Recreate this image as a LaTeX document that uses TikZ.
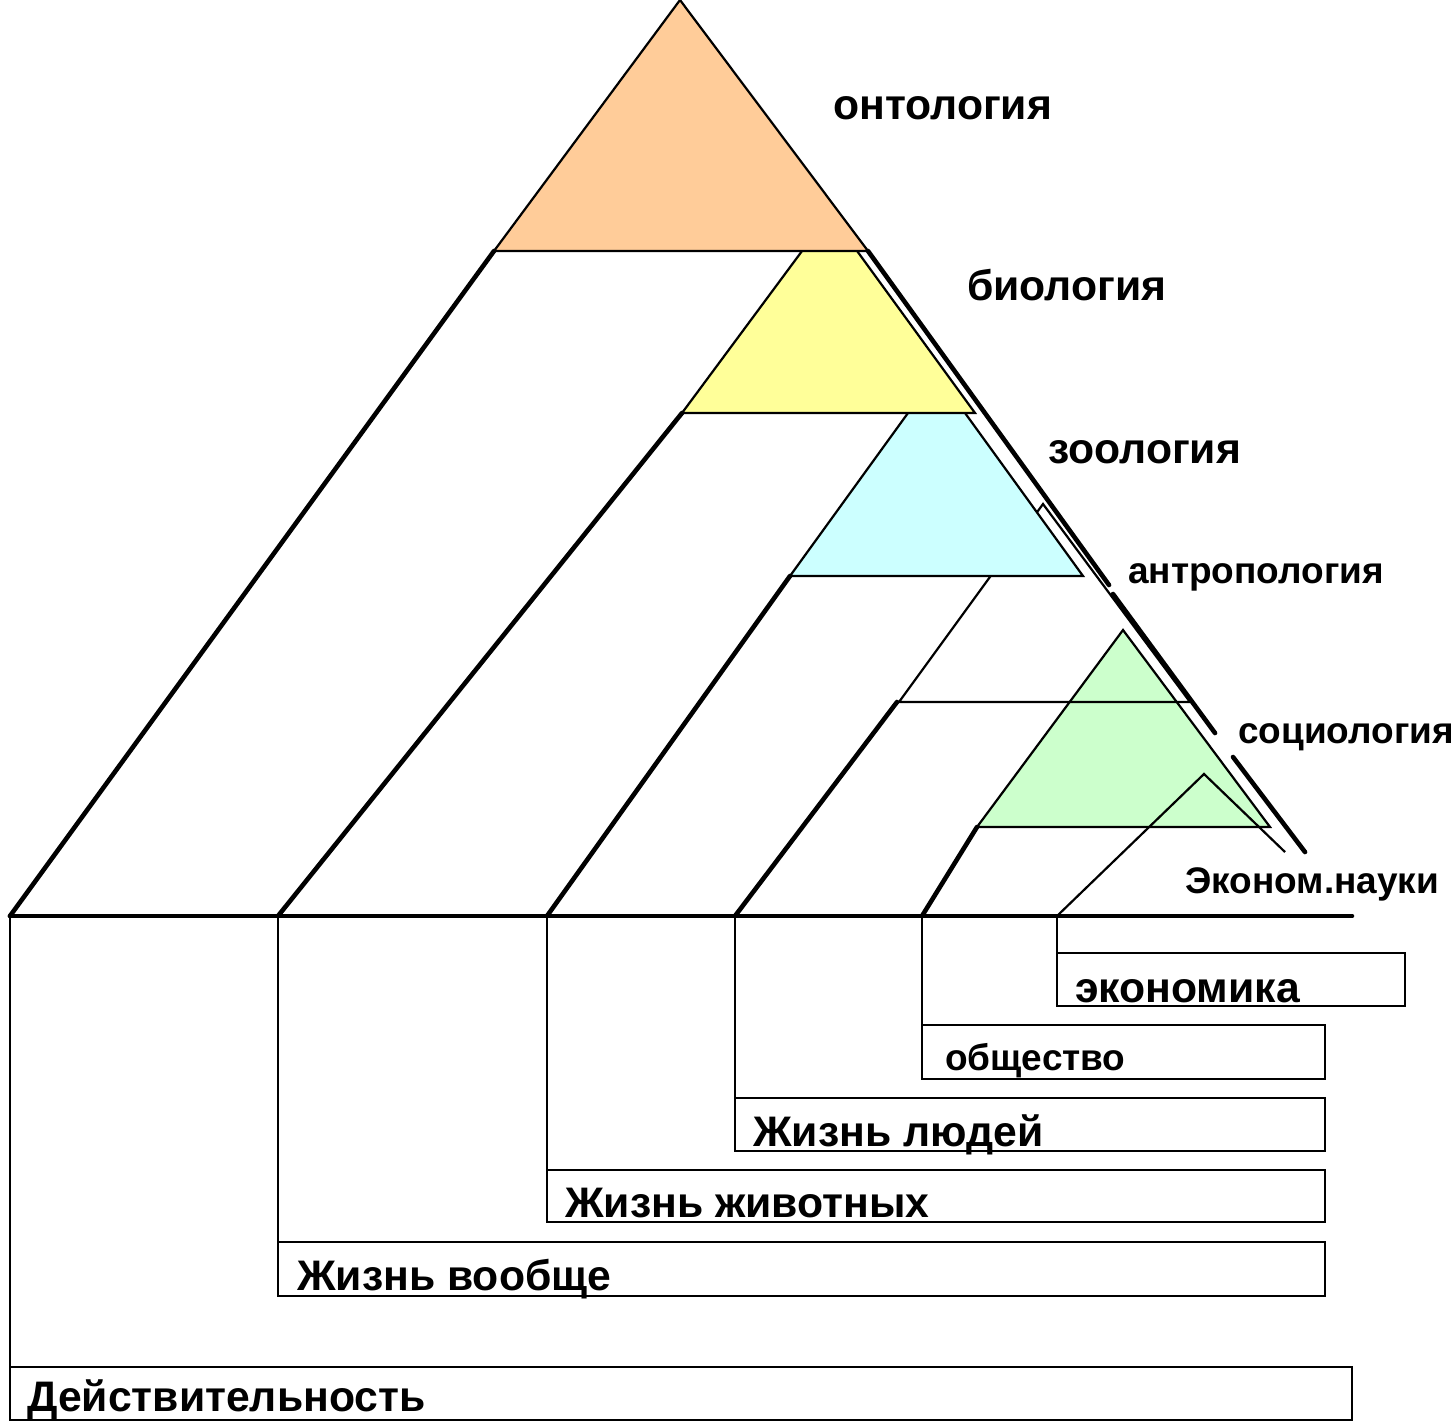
\documentclass[tikz,border=0pt]{standalone}
\usepackage{fontspec}
\setmainfont{Liberation Sans}
\definecolor{ontc}{HTML}{FFCC99}
\definecolor{bioc}{HTML}{FFFF99}
\definecolor{zooc}{HTML}{CCFFFF}
\definecolor{socc}{HTML}{CCFFCC}
\begin{document}
\begin{tikzpicture}[x=1pt,y=-1pt,
  edgeK/.style={line width=4.6pt, line cap=round, line join=round},
  edgeT/.style={line width=2.2pt, line join=miter},
  boxln/.style={line width=2.6pt},
  lbl/.style={inner sep=0pt, anchor=base west, font=\fontsize{42.7}{48}\selectfont\bfseries},
  lbls/.style={inner sep=0pt, anchor=base west, font=\fontsize{37}{42}\selectfont\bfseries}]
\useasboundingbox[fill=white] (0,0) rectangle (1456,1422);

% social triangle (green)
\filldraw[edgeT, fill=socc] (1123,630) -- (977,827) -- (1270,827) -- cycle;
% economics triangle
\coordinate (econA) at (1204,774);
\coordinate (econL) at (1057,916);
\coordinate (econR) at (1285,852);
\draw[edgeT] (econL) -- (econA) -- (econR);
% anthropology triangle (outline only)
\draw[edgeT] (1043,504) -- (899,702) -- (1190,702) -- cycle;
% zoology (blue)
\filldraw[edgeT, fill=zooc] (936.5,373.6) -- (790,576) -- (1083,576) -- cycle;
% biology (yellow)
\filldraw[edgeT, fill=bioc] (829.8,213.5) -- (682,413) -- (975,413) -- cycle;
% ontology (orange)
\filldraw[edgeT, fill=ontc] (680,0) -- (494,251) -- (868,251) -- cycle;

% layer outlines (thick)
\coordinate (b0) at (10,916);
\coordinate (b1) at (278,916);
\coordinate (b2) at (547,916);
\coordinate (b3) at (735,916);
\coordinate (b4) at (922,916);
\coordinate (bEnd) at (1352,916);
\draw[edgeK] (494,251) -- (b0);
\draw[edgeK] (682,413) -- (b1);
\draw[edgeK] (790,576) -- (b2);
\draw[edgeK] (897,702) -- (b3);
\draw[edgeK] (977,827) -- (b4);
\draw[edgeK] (b0) -- (bEnd);
% right outline, broken at the labels
\draw[edgeK] (868,251) -- (1109,585);
\draw[edgeK] (1113,594) -- (1215,733);
\draw[edgeK] (1233,757) -- (1305,852);

% pyramid labels
\node[lbl]  (ont)  at (833,119)  {онтология};
\node[lbl]  (bio)  at (967,300)  {биология};
\node[lbl]  (zoo)  at (1048,463) {зоология};
\node[lbls] (ant)  at (1128,583) {антропология};
\node[lbls] (soc)  at (1238,743) {социология};
\node[lbls] (ecs)  at (1185,893) {Эконом.науки};

% domain boxes
\draw[boxln] (econL) -- (1057,1006) -- (1405,1006) -- (1405,953) -- (1057,953);
\draw[boxln] (b4) -- (922,1079) -- (1325,1079) -- (1325,1025) -- (922,1025);
\draw[boxln] (b3) -- (735,1151) -- (1325,1151) -- (1325,1098) -- (735,1098);
\draw[boxln] (b2) -- (547,1222) -- (1325,1222) -- (1325,1170) -- (547,1170);
\draw[boxln] (b1) -- (278,1296) -- (1325,1296) -- (1325,1242) -- (278,1242);
\draw[boxln] (b0) -- (10,1420) -- (1352,1420) -- (1352,1367) -- (10,1367);

\node[lbl]  (eco)  at (1075,1002) {экономика};
\node[lbls] (obs)  at (945,1070)  {общество};
\node[lbl]  (zl)   at (753,1146)  {Жизнь людей};
\node[lbl]  (zz)   at (565,1217)  {Жизнь животных};
\node[lbl]  (zv)   at (297,1290)  {Жизнь вообще};
\node[lbl]  (dej)  at (27,1411)   {Действительность};
\end{tikzpicture}
\end{document}
